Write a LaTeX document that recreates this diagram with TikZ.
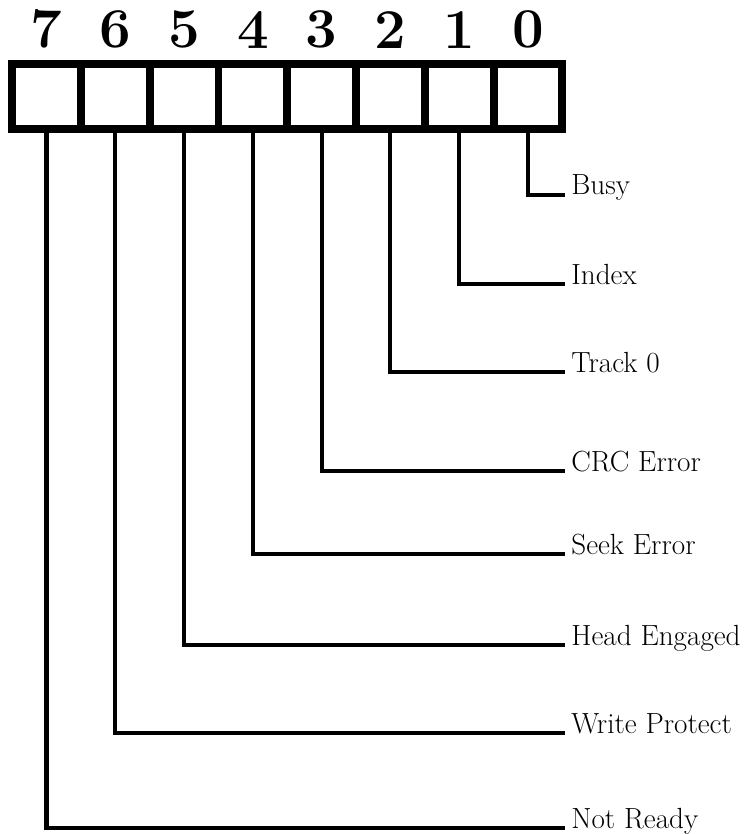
\documentclass[tikz,border=0pt]{standalone}
\usepackage{tikz}
\usetikzlibrary{positioning}

\begin{document}
\begin{tikzpicture}[
    x=0.02cm, y=-0.02cm,
    cell/.style={
        draw,
        line width=4.5pt,
        minimum width=1.376cm,
        minimum height=1.3cm,
        inner sep=0pt,
        outer sep=0pt
    },
    bitnum/.style={
        font=\fontsize{32}{32}\selectfont\bfseries,
        inner sep=0pt,
        anchor=south
    },
    lbl/.style={
        font=\fontsize{16.6}{19}\selectfont,
        inner xsep=0.12cm,
        inner ysep=0pt,
        anchor=base west
    },
    wire/.style={line width=2.3pt}
]
\useasboundingbox (0,0) rectangle (750,834);

% the register, bit 7 on the left
\node[cell] (b7) at (46.5,96.5) {};
\node[cell, right=0pt of b7] (b6) {};
\node[cell, right=0pt of b6] (b5) {};
\node[cell, right=0pt of b5] (b4) {};
\node[cell, right=0pt of b4] (b3) {};
\node[cell, right=0pt of b3] (b2) {};
\node[cell, right=0pt of b2] (b1) {};
\node[cell, right=0pt of b1] (b0) {};

\node[bitnum, above=0.3cm of b7] (n7) {7};
\node[bitnum, above=0.3cm of b6] (n6) {6};
\node[bitnum, above=0.3cm of b5] (n5) {5};
\node[bitnum, above=0.3cm of b4] (n4) {4};
\node[bitnum, above=0.3cm of b3] (n3) {3};
\node[bitnum, above=0.3cm of b2] (n2) {2};
\node[bitnum, above=0.3cm of b1] (n1) {1};
\node[bitnum, above=0.3cm of b0] (n0) {0};

% flag names
\node[lbl] (busy) at (565,195) {Busy};
\node[lbl] (index) at (565,284) {Index};
\node[lbl] (track) at (565,372) {Track 0};
\node[lbl] (crc) at (565,471) {CRC Error};
\node[lbl] (seek) at (565,554) {Seek Error};
\node[lbl] (head) at (565,645) {Head Engaged};
\node[lbl] (wprot) at (565,733) {Write Protect};
\node[lbl] (nrdy) at (565,828) {Not Ready};

\draw[wire] (b0.south) |- (busy.base west);
\draw[wire] (b1.south) |- (index.base west);
\draw[wire] (b2.south) |- (track.base west);
\draw[wire] (b3.south) |- (crc.base west);
\draw[wire] (b4.south) |- (seek.base west);
\draw[wire] (b5.south) |- (head.base west);
\draw[wire] (b6.south) |- (wprot.base west);
\draw[wire] (b7.south) |- (nrdy.base west);
\end{tikzpicture}
\end{document}
